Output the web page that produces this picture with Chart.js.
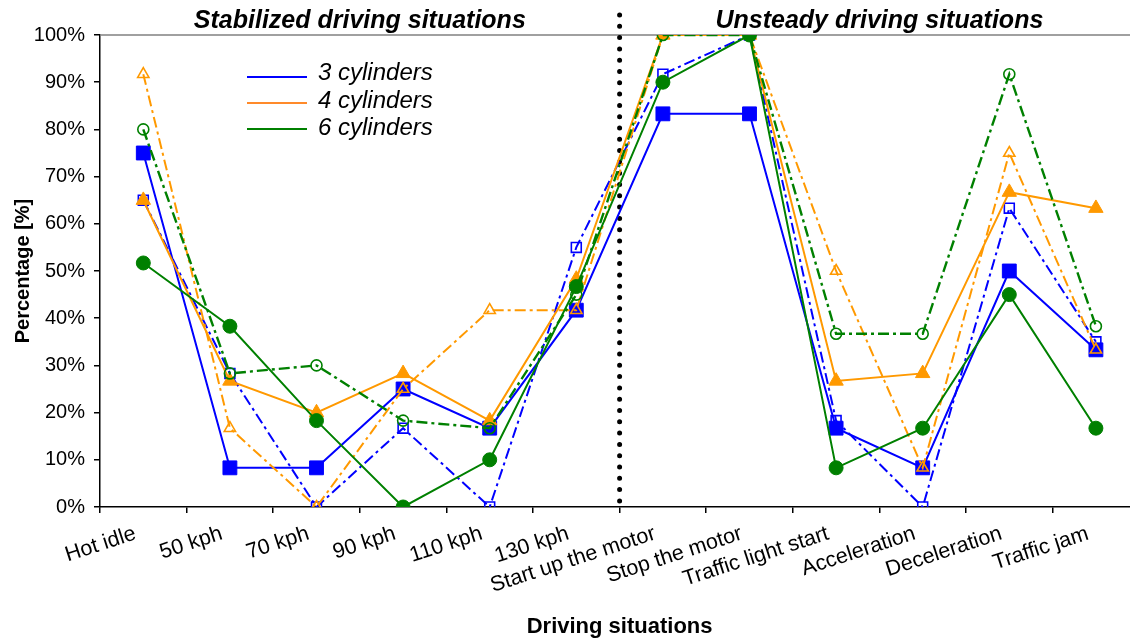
<!DOCTYPE html>
<html><head><meta charset="utf-8">
<script src="https://cdn.jsdelivr.net/npm/chart.js@4.4.0/dist/chart.umd.min.js"></script>
<style>html,body{margin:0;padding:0;overflow:hidden;background:#fff;width:1130px;height:639px}
canvas{display:block}</style></head><body>
<canvas id="c" width="1150" height="639"></canvas>
<script>
const categories = ['Hot idle','50 kph','70 kph','90 kph','110 kph','130 kph','Start up the motor','Stop the motor','Traffic light start','Acceleration','Deceleration','Traffic jam'];
const cyl3Solid = [75, 8.3, 8.3, 25, 16.7, 41.7, 83.3, 83.3, 16.7, 8.3, 50, 33.3];
const cyl4Solid = [65, 26.7, 20, 28.3, 18.3, 48.3, 100, 100, 26.7, 28.3, 66.7, 63.3];
const cyl6Solid = [51.7, 38.3, 18.3, 0, 10, 46.7, 90, 100, 8.3, 16.7, 45, 16.7];
const cyl3Dash = [65, 28.3, 0, 16.7, 0, 55, 91.7, 100, 18.3, 0, 63.3, 35];
const cyl4Dash = [91.7, 16.7, 0, 25, 41.7, 41.7, 100, 100, 50, 8.3, 75, 33.3];
const cyl6Dash = [80, 28.3, 30, 18.3, 16.7, 45, 100, 100, 36.7, 36.7, 91.7, 38.3];
const yTickLabels = ['0%','10%','20%','30%','40%','50%','60%','70%','80%','90%','100%'];
const legendLabels = ['3 cylinders','4 cylinders','6 cylinders'];
const sectionTitles = ['Stabilized driving situations','Unsteady driving situations'];
const xTitle = 'Driving situations';
const yTitle = 'Percentage [%]';

const BLUE = '#0000FF', ORANGE = '#FF9900', GREEN = '#008000';
const FONT = 'Liberation Sans, Arial, sans-serif';
const DASH = [11, 4, 3, 4];
const NONE = 'rgba(0,0,0,0)';

function solid(label, data, color, style, r) {
  return { label, data, borderColor: color, borderWidth: 2, backgroundColor: color,
    pointStyle: style, pointRadius: r, pointHoverRadius: r, pointBackgroundColor: color,
    pointBorderColor: color, pointBorderWidth: 1, tension: 0, fill: false };
}
function dashed(label, data, color, style, r, w) {
  return { label, data, borderColor: color, borderWidth: w, borderDash: DASH, backgroundColor: NONE,
    pointStyle: style, pointRadius: r, pointHoverRadius: r, pointBackgroundColor: NONE,
    pointBorderColor: color, pointBorderWidth: 1.6, tension: 0, fill: false };
}

// dataset 0 is drawn on top
const datasets = [
  solid('6 cylinders', cyl6Solid, GREEN, 'circle', 7),
  dashed('6 cylinders (dash)', cyl6Dash, GREEN, 'circle', 5.5, 2.4),
  dashed('4 cylinders (dash)', cyl4Dash, ORANGE, 'triangle', 6.5, 2),
  solid('4 cylinders', cyl4Solid, ORANGE, 'triangle', 8.3),
  solid('3 cylinders', cyl3Solid, BLUE, 'rect', 9.8),
  dashed('3 cylinders (dash)', cyl3Dash, BLUE, 'rect', 7, 2),
];

const overlay = {
  id: 'overlay',
  beforeDatasetsDraw(chart) {
    const ctx = chart.ctx, a = chart.chartArea, xs = chart.scales.x;
    ctx.save();
    ctx.strokeStyle = '#808080'; ctx.lineWidth = 1.5;
    ctx.beginPath(); ctx.moveTo(a.left, a.top); ctx.lineTo(a.right + 10, a.top); ctx.stroke();
    const sx = (xs.getPixelForValue(5) + xs.getPixelForValue(6)) / 2;
    ctx.strokeStyle = '#000'; ctx.lineWidth = 5; ctx.lineCap = 'round';
    ctx.setLineDash([0, 11.3]);
    ctx.beginPath(); ctx.moveTo(sx, 15); ctx.lineTo(sx, a.bottom - 2); ctx.stroke();
    ctx.restore();
  },
  afterDraw(chart) {
    const ctx = chart.ctx, a = chart.chartArea, xs = chart.scales.x;
    ctx.save();
    const sx = (xs.getPixelForValue(5) + xs.getPixelForValue(6)) / 2;
    ctx.fillStyle = '#000';
    ctx.font = 'italic bold 25px ' + FONT;
    ctx.textAlign = 'center'; ctx.textBaseline = 'alphabetic';
    ctx.fillText(sectionTitles[0], (a.left + sx) / 2, 28);
    ctx.fillText(sectionTitles[1], (sx + a.right) / 2, 28);
    const cols = [BLUE, '#FF8A2A', GREEN];
    const ys = [77, 103, 129];
    ctx.font = 'italic 24px ' + FONT;
    ctx.textAlign = 'left';
    for (let i = 0; i < 3; i++) {
      ctx.strokeStyle = cols[i]; ctx.lineWidth = 2;
      ctx.beginPath(); ctx.moveTo(247, ys[i]); ctx.lineTo(307, ys[i]); ctx.stroke();
      ctx.fillText(legendLabels[i], 318, ys[i] + 3 + i * 1.5);
    }
    ctx.restore();
  }
};

new Chart(document.getElementById('c'), {
  type: 'line',
  data: { labels: categories, datasets },
  options: {
    responsive: false, animation: false, devicePixelRatio: 1,
    layout: { padding: { top: 35, right: 2, left: 0, bottom: 0 } },
    plugins: { legend: { display: false }, tooltip: { enabled: false } },
    scales: {
      x: {
        type: 'category', offset: true,
        grid: { offset: true, drawOnChartArea: false, drawTicks: true, tickLength: 6, color: '#000', lineWidth: 1.5 },
        border: { display: true, color: '#000', width: 1.5 },
        ticks: { color: '#000', font: { family: FONT, size: 21.5 }, minRotation: 18, maxRotation: 18, padding: 8, labelOffset: -8, autoSkip: false },
        title: { display: true, text: xTitle, color: '#000', font: { family: FONT, size: 22, weight: 'bold' }, padding: { top: 0, bottom: -1 } },
        afterFit(s) { s.height = 132; }
      },
      y: {
        min: 0, max: 100,
        grid: { drawOnChartArea: false, drawTicks: true, tickLength: 6, color: '#000', lineWidth: 1.5 },
        border: { display: true, color: '#000', width: 1.5 },
        ticks: { stepSize: 10, color: '#000', font: { family: FONT, size: 20 }, padding: 9,
          callback: (v) => yTickLabels[Math.round(v / 10)] },
        title: { display: true, text: yTitle, color: '#000', font: { family: FONT, size: 20, weight: 'bold' }, padding: { top: 11, bottom: 11 } },
        afterFit(s) { s.width = 100; }
      }
    }
  },
  plugins: [overlay]
});
</script></body></html>
